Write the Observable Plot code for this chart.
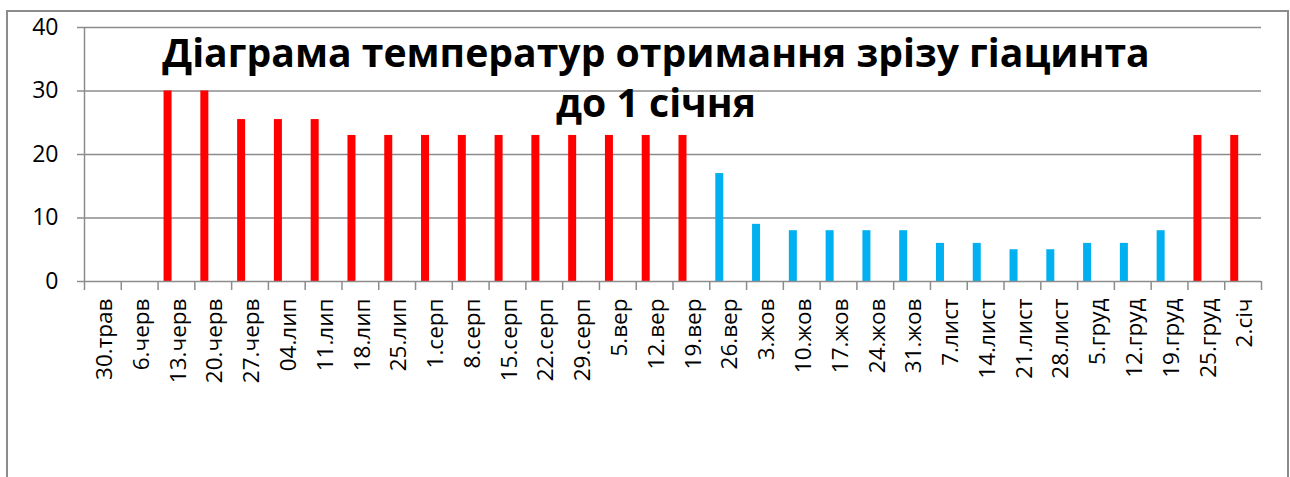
<!DOCTYPE html>
<html>
<head>
<meta charset="utf-8">
<script src="https://cdn.jsdelivr.net/npm/d3@7"></script>
<script src="https://cdn.jsdelivr.net/npm/@observablehq/plot@0.6"></script>
<style>
  html, body { margin: 0; padding: 0; background: #fff; }
  #wrap { position: relative; width: 1290px; height: 477px; overflow: hidden; font-family: "Open Sans", sans-serif; }
  #border { position: absolute; left: 6px; top: 10px; width: 1283px; height: 520px; border: 2px solid #8c8c8c; box-sizing: border-box; }
  #chart { position: absolute; left: 0; top: 0; width: 1290px; }
  .tline { position: absolute; left: 656px; transform: translateX(-50%); white-space: nowrap; font-weight: 700; line-height: 1; color: #000; }
</style>
</head>
<body>
<div id="wrap">
  <div id="border"></div>
  <div id="chart"></div>
  <div id="t1" class="tline"></div>
  <div id="t2" class="tline"></div>
</div>
<script>
// ---- data ----
const categories = ["30.трав","6.черв","13.черв","20.черв","27.черв","04.лип","11.лип","18.лип","25.лип",
  "1.серп","8.серп","15.серп","22.серп","29.серп","5.вер","12.вер","19.вер","26.вер","3.жов","10.жов",
  "17.жов","24.жов","31.жов","7.лист","14.лист","21.лист","28.лист","5.груд","12.груд","19.груд","25.груд","2.січ"];
const temperatures = [0,0,30,30,25.5,25.5,25.5,23,23,23,23,23,23,23,23,23,23,17,9,8,8,8,8,6,6,5,5,6,6,8,23,23];
const phases = ["warm","warm","warm","warm","warm","warm","warm","warm","warm","warm","warm","warm","warm","warm","warm","warm","warm",
  "cool","cool","cool","cool","cool","cool","cool","cool","cool","cool","cool","cool","cool","warm","warm"];
const yTicks = [0, 10, 20, 30, 40];
const titleLine1 = "Діаграма температур отримання зрізу гіацинта";
const titleLine2 = "до 1 січня";

// ---- layout ----
const W = 1290, H = 477;
const mL = 84, mR = 29, mT = 27, mB = 196;
const n = categories.length;
const bw = (W - mL - mR) / n;
const barInsetLeft = 6, barWidth = 8;
const gridColor = "#8c8c8c";
const font = '"Open Sans", sans-serif';

const data = categories.map((c, i) => ({i, c, v: temperatures[i], p: phases[i]}));

const plot = Plot.plot({
  width: W, height: H,
  marginLeft: mL, marginRight: mR, marginTop: mT, marginBottom: mB,
  style: {fontFamily: font, background: "transparent", color: "#000", overflow: "visible"},
  x: {type: "linear", domain: [0, n], axis: null},
  y: {domain: [0, 40], axis: null},
  color: {domain: ["warm", "cool"], range: ["#FF0000", "#00B0F0"]},
  marks: [
    Plot.gridY(yTicks.filter(t => t > 0), {stroke: gridColor, strokeOpacity: 1, strokeWidth: 1.5}),
    Plot.rectY(data, {x1: "i", x2: d => d.i + 1, y1: 0, y2: "v", fill: "p",
      insetLeft: barInsetLeft, insetRight: bw - barInsetLeft - barWidth}),
    Plot.ruleY([0], {stroke: gridColor, strokeWidth: 1.5}),
    Plot.ruleX([0], {stroke: gridColor, strokeWidth: 1.5}),
    // boundary tick marks under the category axis
    Plot.axisX({ticks: d3.range(n + 1), tickSize: 9, stroke: gridColor, strokeWidth: 1.5, tickFormat: () => "", label: null}),
    // category labels
    Plot.axisX({ticks: d3.range(n).map(i => i + 0.5), tickFormat: t => categories[Math.floor(t)],
      tickSize: 0, tickPadding: 17, tickRotate: -90, fontSize: 22.5, fill: "#000", label: null, dx: 2}),
    // y ticks and labels
    Plot.axisY({ticks: yTicks, tickSize: 7, stroke: gridColor, strokeWidth: 1.5, tickFormat: () => "", label: null}),
    Plot.axisY({ticks: yTicks, tickSize: 0, tickPadding: 26, fontSize: 23, fill: "#000", label: null})
  ]
});
document.getElementById("chart").appendChild(plot);

// ---- title (fit to the reference width) ----
const ctx = document.createElement("canvas").getContext("2d");
ctx.font = '700 100px "Open Sans"';
const fs = 100 * 988 / ctx.measureText(titleLine1).width;
const t1 = document.getElementById("t1"), t2 = document.getElementById("t2");
t1.textContent = titleLine1; t2.textContent = titleLine2;
[t1, t2].forEach(el => { el.style.fontSize = fs + "px"; });
t1.style.top = (67 - 0.888 * fs) + "px";
t2.style.top = (117 - 0.888 * fs) + "px";
</script>
</body>
</html>
